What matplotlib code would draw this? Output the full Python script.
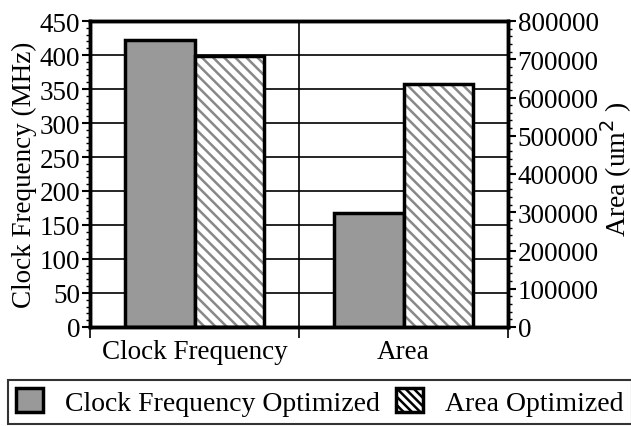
import numpy as np
import matplotlib as mpl
mpl.use('Agg')
from matplotlib import pyplot as plt
from matplotlib.patches import Patch
from matplotlib.ticker import MultipleLocator

plt.rcParams['font.family'] = ['Liberation Serif', 'DejaVu Serif']
plt.rcParams['hatch.linewidth'] = 1.8
plt.rcParams['hatch.color'] = '#888888'

categories = ['Clock Frequency', 'Area']
series = ['Clock Frequency Optimized', 'Area Optimized']
freq_values = [422, 398]          # MHz, left axis
area_values = [298000, 635000]    # um^2, right axis
left_ticks = [0, 50, 100, 150, 200, 250, 300, 350, 400, 450]
right_ticks = [0, 100000, 200000, 300000, 400000, 500000, 600000, 700000, 800000]

bar_fill = '#999999'
width = 1 / 3.
fs = 19.5

fig = plt.figure(figsize=(6.31, 4.27), dpi=100)
ax = fig.add_axes([90 / 631., 1 - 328 / 427., 418 / 631., 306 / 427.])
ax2 = ax.twinx()

# 网格线
for t in left_ticks[1:-1]:
    ax.axhline(t, color='k', lw=1.2, zorder=0)
ax.axvline(0.5, color='k', lw=1.2, zorder=0)

# 左轴: 频率
ax.bar(0 - width / 2, freq_values[0], width, color=bar_fill, edgecolor='k', lw=2.5, zorder=2)
ax.bar(0 + width / 2, freq_values[1], width, color='white', edgecolor='#888888', hatch='\\\\\\', lw=0, zorder=2)
ax.bar(0 + width / 2, freq_values[1], width, fill=False, edgecolor='k', lw=2.5, zorder=3)

# 右轴: 面积
ax2.bar(1 - width / 2, area_values[0], width, color=bar_fill, edgecolor='k', lw=2.5, zorder=2)
ax2.bar(1 + width / 2, area_values[1], width, color='white', edgecolor='#888888', hatch='\\\\\\', lw=0, zorder=2)
ax2.bar(1 + width / 2, area_values[1], width, fill=False, edgecolor='k', lw=2.5, zorder=3)

ax.set_xlim(-0.5, 1.5)
ax.set_ylim(0, 450)
ax2.set_ylim(0, 800000)

ax.set_yticks(left_ticks)
ax.set_yticklabels([str(t) for t in left_ticks], fontsize=fs)
ax.yaxis.set_minor_locator(MultipleLocator(10))
ax2.set_yticks(right_ticks)
ax2.set_yticklabels([str(t) for t in right_ticks], fontsize=fs)
ax2.yaxis.set_minor_locator(MultipleLocator(20000))

ax.set_xticks([-0.5, 0.5, 1.5])
ax.set_xticklabels([])
ax.set_xticks([0, 1], minor=True)
ax.set_xticklabels(categories, minor=True, fontsize=fs)
ax.tick_params(axis='x', which='major', direction='out', length=8, width=1.2)
ax.tick_params(axis='x', which='minor', length=0, pad=9)
ax.tick_params(axis='y', which='major', direction='out', length=6, width=1.5, pad=1)
ax.tick_params(axis='y', which='minor', direction='out', length=3, width=1)
ax2.tick_params(axis='y', which='major', direction='out', length=6, width=1.5, pad=1)
ax2.tick_params(axis='y', which='minor', direction='out', length=3, width=1)

for a in (ax, ax2):
    for s in a.spines.values():
        s.set_linewidth(2.5)

ax.set_ylabel('Clock Frequency (MHz)', fontsize=fs, labelpad=2)
ax2.set_ylabel('Area (um$^2$ )', fontsize=20)
ax2.yaxis.set_label_coords(1.217, 0.52)

handles = [Patch(facecolor=bar_fill, edgecolor='k', lw=2.5),
           Patch(facecolor='white', edgecolor='k', hatch='\\\\\\\\', lw=2.5)]
leg = fig.legend(handles, series, loc='upper left', bbox_to_anchor=(8 / 631., 1 - 381 / 427.),
                 ncol=2, fontsize=20, frameon=True, fancybox=False, edgecolor='k',
                 handlelength=0.95, handleheight=0.95, handletextpad=0.8, columnspacing=0.6,
                 borderpad=0.3, borderaxespad=0)
leg.get_frame().set_linewidth(1.5)

fig.savefig('out.png', dpi=100)
